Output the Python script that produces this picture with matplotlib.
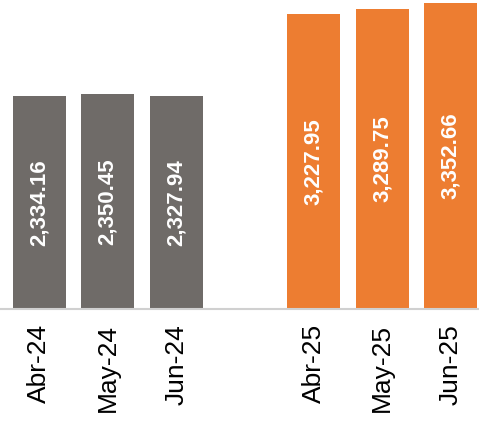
import numpy as np
import matplotlib.pyplot as plt

plt.rcParams['font.family'] = ['Liberation Sans', 'DejaVu Sans']

# data
months = ['Abr-24', 'May-24', 'Jun-24', '', 'Abr-25', 'May-25', 'Jun-25']
values_24 = [2334.16, 2350.45, 2327.94]
values_25 = [3227.95, 3289.75, 3352.66]

gray = '#6f6b68'
orange = '#ed7d31'

fig = plt.figure(figsize=(4.79, 4.23), dpi=100)
ax = fig.add_axes([0.0, 0.2695, 1.0, 0.7305])

x24 = np.arange(3)
x25 = np.arange(4, 7)
b1 = ax.bar(x24, values_24, width=0.77, color=gray)
b2 = ax.bar(x25, values_25, width=0.77, color=orange)

for bars, vals in ((b1, values_24), (b2, values_25)):
    for b, v in zip(bars, vals):
        ax.text(b.get_x() + b.get_width() / 2, v / 2, f'{v:,.2f}',
                rotation=90, ha='center', va='center', color='white',
                fontsize=16, fontweight='bold')

ax.set_xlim(-0.57, 6.41)
ax.set_ylim(0, 3385)
ax.set_xticks(range(7))
ax.set_xticklabels(months, rotation=90, fontsize=19)
ax.tick_params(axis='x', length=0, pad=11)
ax.set_yticks([])
for s in ['top', 'right', 'left']:
    ax.spines[s].set_visible(False)
ax.spines['bottom'].set_color('#d0d0d0')
ax.spines['bottom'].set_linewidth(1.5)

fig.savefig('out.png', dpi=100)
